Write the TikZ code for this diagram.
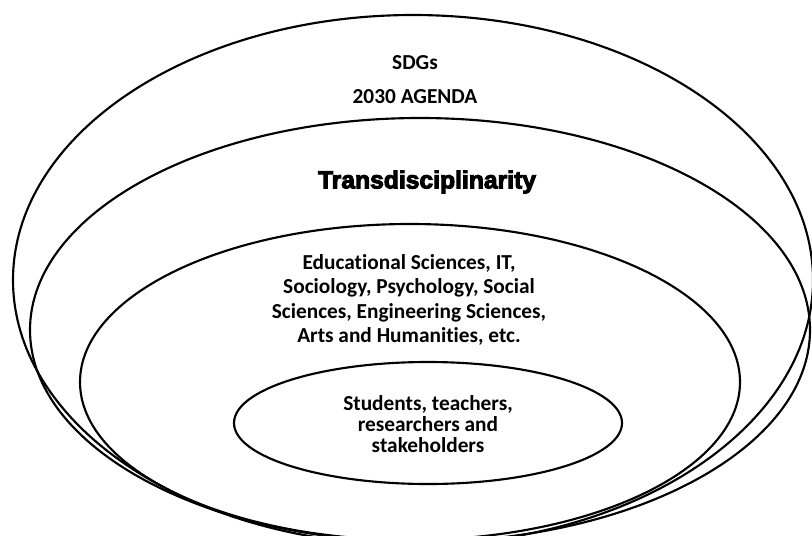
\documentclass[tikz,border=0pt]{standalone}
\usepackage{fontspec}
\setmainfont{Carlito}[Ligatures=NoCommon]
\newfontfamily\heavyfont{Liberation Sans}[FakeBold=4]
\tikzset{
  ring/.style={line width=1.6pt},
  txt/.style={font=\bfseries\fontsize{16}{18}\selectfont, align=center, inner sep=0pt},
}
\begin{document}
\begin{tikzpicture}[x=0.75pt, y=-0.75pt]
    \useasboundingbox (0,0) rectangle (812,535);
    \clip (0,0) rectangle (812,535);
    % the four nested rings
    \draw[ring] (413,280) ellipse [x radius=400, y radius=265];
    \draw[ring] (420,330) ellipse [x radius=390, y radius=212];
    \draw[ring] (410,382) ellipse [x radius=330, y radius=158];
    \draw[ring] (428,423) ellipse [x radius=194, y radius=61];
    % labels
    \node[txt] (sdgs) at (415,63) {SDGs};
    \node[txt] (agenda) at (415,97) {2030 AGENDA};
    \node[txt, font=\heavyfont\bfseries\fontsize{18.5}{20}\selectfont] (trans) at (427,182) {Transdisciplinarity};
    \node[txt, font=\bfseries\fontsize{16}{18.2}\selectfont] (fields) at (409,300)
        {Educational Sciences, IT,\\Sociology, Psychology, Social\\Sciences, Engineering Sciences,\\Arts and Humanities, etc.};
    \node[txt, font=\bfseries\fontsize{16}{15.5}\selectfont] (people) at (428,424)
        {Students, teachers,\\researchers and\\stakeholders};
\end{tikzpicture}
\end{document}
